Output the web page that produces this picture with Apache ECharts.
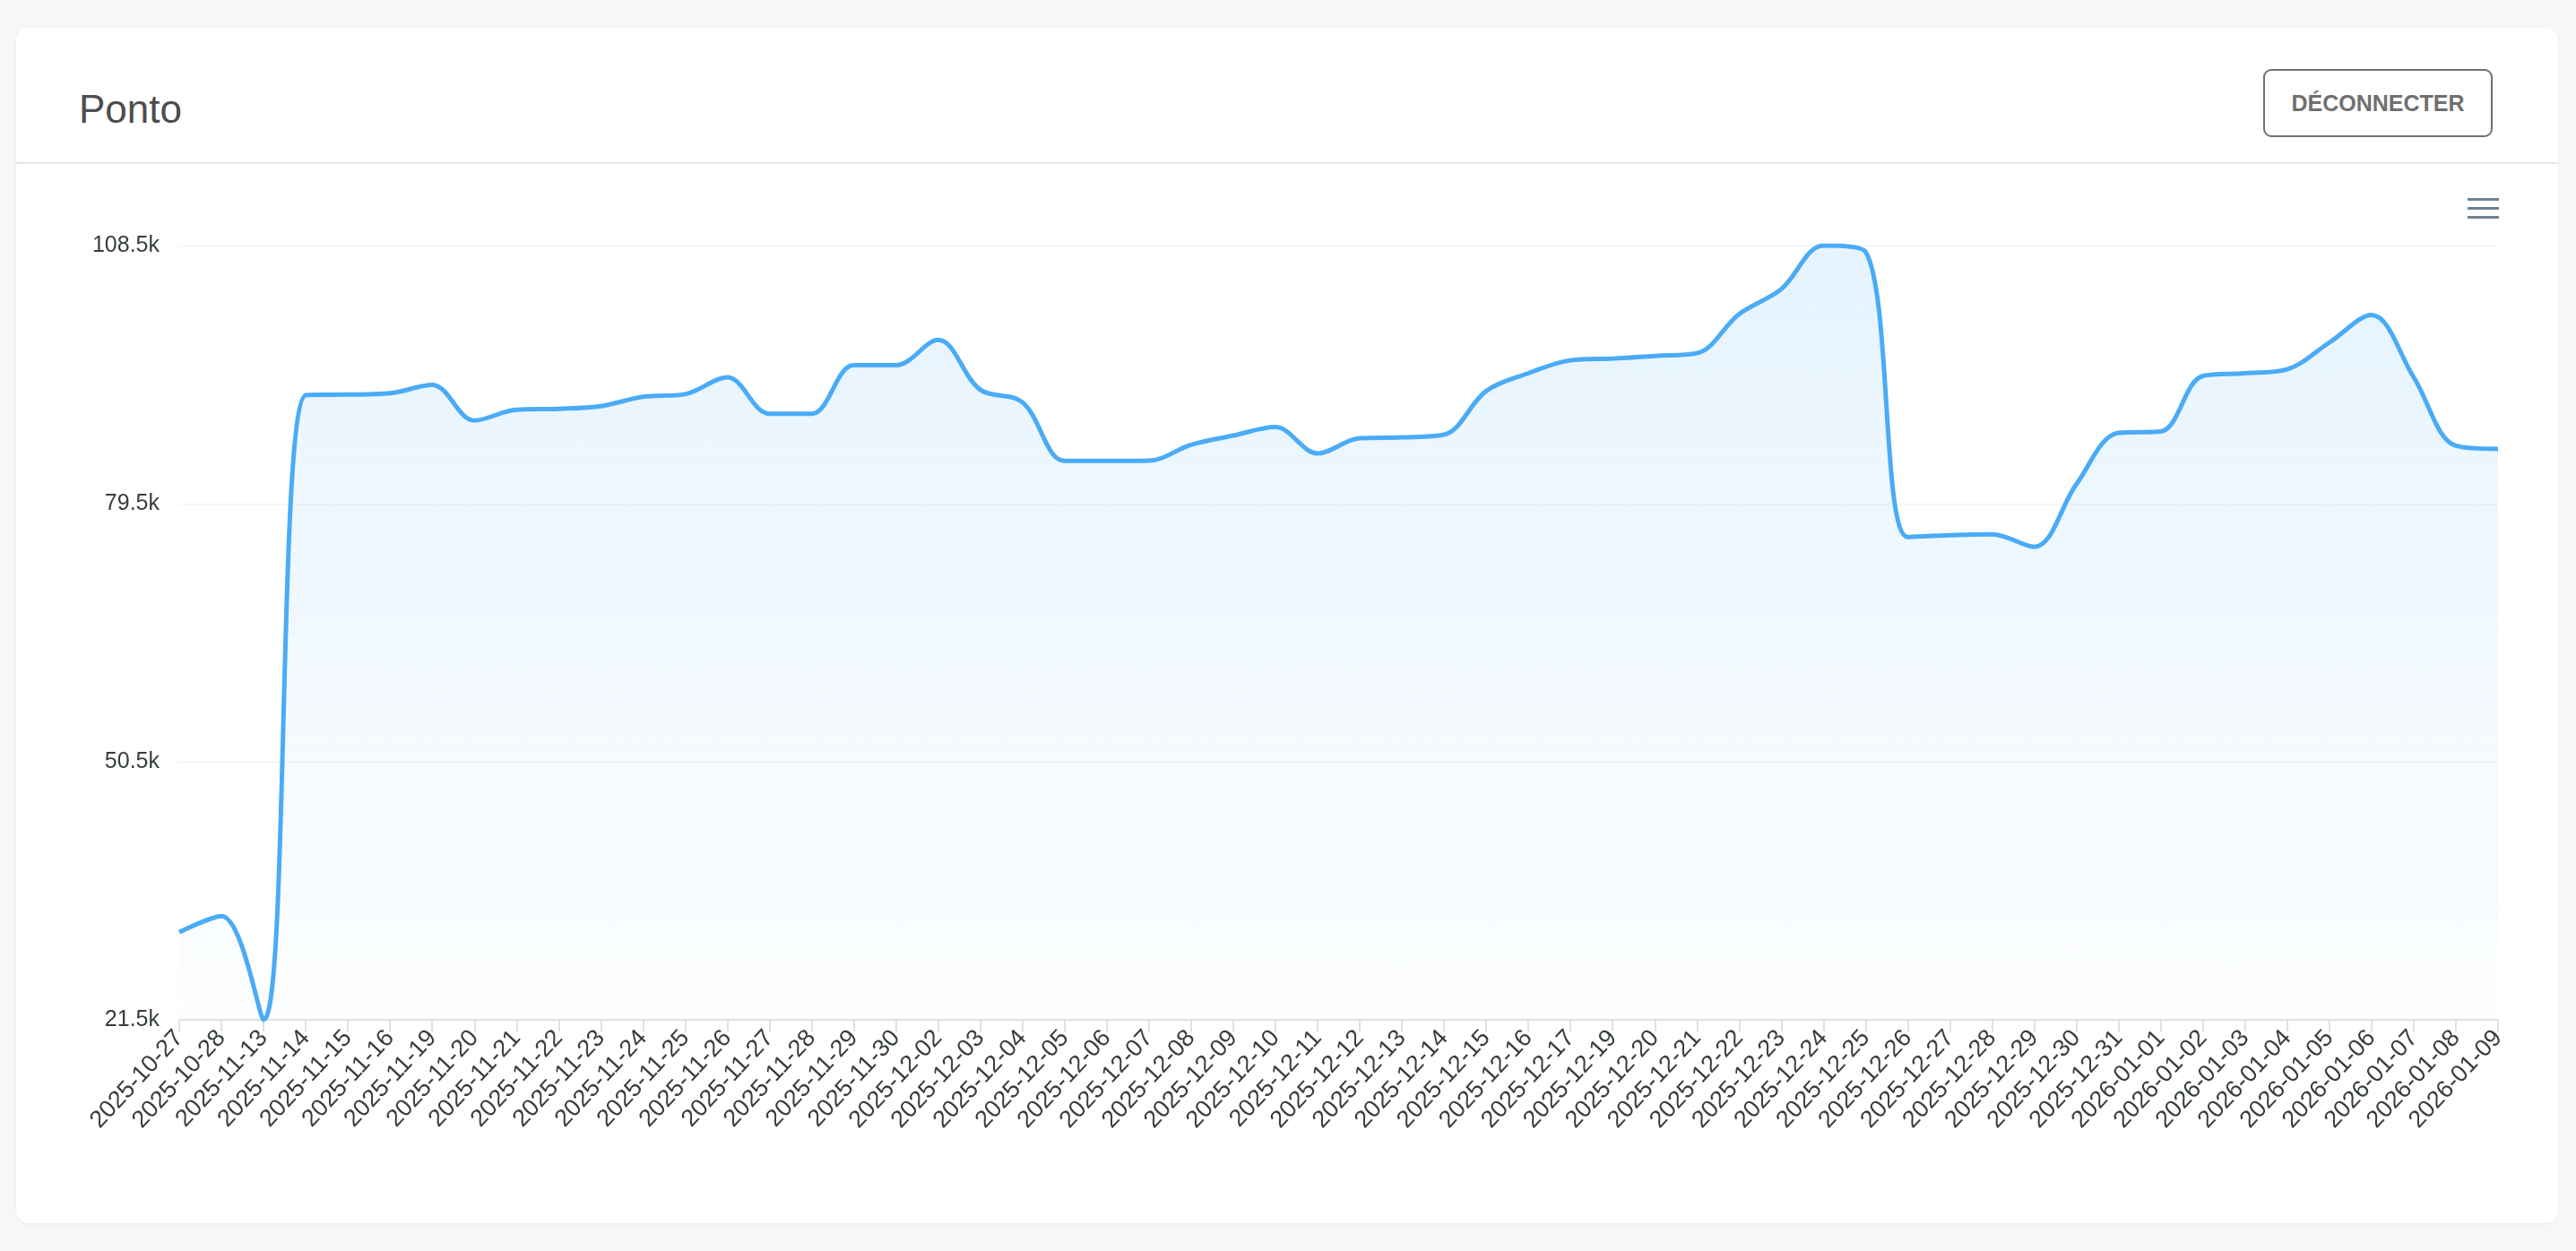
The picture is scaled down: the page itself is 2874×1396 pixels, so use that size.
<!DOCTYPE html>
<html>
<head>
<meta charset="utf-8">
<script src="https://cdn.jsdelivr.net/npm/echarts@6/dist/echarts.min.js"></script>
<style>
  html, body { margin: 0; padding: 0; width: 2874px; height: 1396px; background: #f7f7f7; overflow: hidden; font-family: "Liberation Sans", Helvetica, Arial, sans-serif; }
  #card { position: absolute; left: 18px; top: 31px; width: 2836px; height: 1334px; background: #fff; border-radius: 14px; box-shadow: 0 1px 3px rgba(0,0,0,0.06); }
  #title { position: absolute; left: 88px; top: 100px; font-size: 44px; line-height: 1; color: #4d4d4d; }
  #divider { position: absolute; left: 18px; top: 181px; width: 2836px; height: 2px; background: #e6e6ea; }
  #btn { position: absolute; left: 2525px; top: 77px; width: 252px; height: 72px; border: 2px solid #707070; border-radius: 9px; color: #707070; font-weight: bold; font-size: 25px; display: flex; align-items: center; justify-content: center; box-sizing: content-box; }
  #chart { position: absolute; left: 0; top: 0; width: 2874px; height: 1396px; }
</style>
</head>
<body>
<div id="card"></div>
<div id="title">Ponto</div>
<div id="divider"></div>
<div id="btn">DÉCONNECTER</div>
<div id="chart"></div>
<script>
const categories = [
  '2025-10-27','2025-10-28','2025-11-13','2025-11-14','2025-11-15','2025-11-16','2025-11-19','2025-11-20',
  '2025-11-21','2025-11-22','2025-11-23','2025-11-24','2025-11-25','2025-11-26','2025-11-27','2025-11-28',
  '2025-11-29','2025-11-30','2025-12-02','2025-12-03','2025-12-04','2025-12-05','2025-12-06','2025-12-07',
  '2025-12-08','2025-12-09','2025-12-10','2025-12-11','2025-12-12','2025-12-13','2025-12-14','2025-12-15',
  '2025-12-16','2025-12-17','2025-12-19','2025-12-20','2025-12-21','2025-12-22','2025-12-23','2025-12-24',
  '2025-12-25','2025-12-26','2025-12-27','2025-12-28','2025-12-29','2025-12-30','2025-12-31','2026-01-01',
  '2026-01-02','2026-01-03','2026-01-04','2026-01-05','2026-01-06','2026-01-07','2026-01-08','2026-01-09'
];
const values = [
  31350, 33150, 21500, 91700, 91750, 91900, 92850, 88850,
  90050, 90150, 90450, 91500, 91800, 93700, 89600, 89600,
  95050, 95050, 97900, 92300, 90900, 84300, 84300, 84330,
  86100, 87150, 88100, 85150, 86850, 86950, 87250, 92150,
  94150, 95600, 95800, 96100, 96400, 100800, 103600, 108500,
  107800, 75750, 75950, 76050, 74650, 81700, 87450, 87600,
  93850, 94150, 94600, 97600, 100700, 93700, 86000, 85650
];
const yMin = 21500;
const yMax = 108500;
const yStep = 29000;

const chart = echarts.init(document.getElementById('chart'), null, { renderer: 'canvas' });
const font = '"Liberation Sans", Helvetica, Arial, sans-serif';
chart.setOption({
  backgroundColor: 'transparent',
  animation: false,
  grid: { left: 200, right: 87, top: 274, bottom: 258, containLabel: false },
  xAxis: {
    type: 'category',
    data: categories,
    boundaryGap: false,
    axisLine: { show: true, lineStyle: { color: '#e0e0e0', width: 2 } },
    axisTick: { show: true, alignWithLabel: true, length: 13, lineStyle: { color: '#e0e0e0', width: 2 }, interval: 0 },
    axisLabel: { interval: 0, rotate: 47, margin: 16, color: '#373d3f', fontSize: 27, fontFamily: font },
    splitLine: { show: false }
  },
  yAxis: {
    type: 'value',
    min: yMin,
    max: yMax,
    interval: yStep,
    axisLine: { show: false },
    axisTick: { show: false },
    axisLabel: { margin: 22, color: '#373d3f', fontSize: 25, fontFamily: font,
      formatter: v => (v / 1000).toFixed(1) + 'k' },
    splitLine: { show: true, lineStyle: { color: '#f0f0f0', width: 1 } }
  },
  series: [{
    type: 'line',
    data: values,
    smooth: 0.35,
    symbol: 'none',
    lineStyle: { color: '#4aabf6', width: 5 },
    areaStyle: {
      color: new echarts.graphic.LinearGradient(0, 0, 0, 1, [
        { offset: 0, color: 'rgba(74,171,246,0.2)' },
        { offset: 1, color: 'rgba(74,171,246,0.02)' }
      ])
    }
  }],
  graphic: [
    { type: 'rect', left: 2753, top: 221, shape: { width: 35, height: 3 }, style: { fill: '#6e8192' } },
    { type: 'rect', left: 2753, top: 231, shape: { width: 35, height: 3 }, style: { fill: '#6e8192' } },
    { type: 'rect', left: 2753, top: 241, shape: { width: 35, height: 3 }, style: { fill: '#6e8192' } }
  ]
});
</script>
</body>
</html>
